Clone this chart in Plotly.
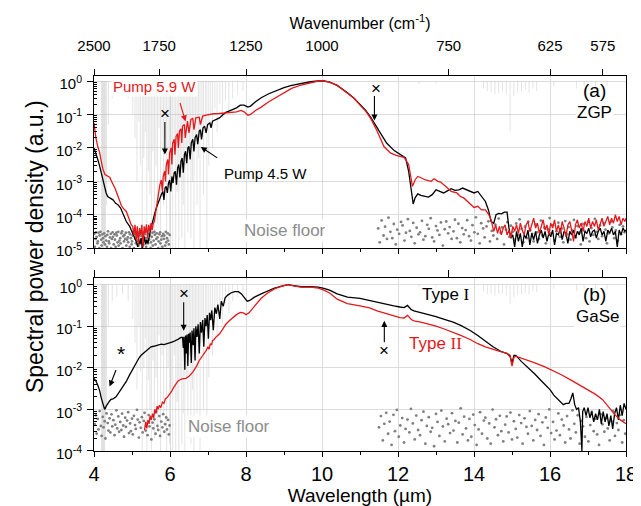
import plotly.graph_objects as go

# ---------------- data ----------------
# Panel (a) ZGP, pump 4.5 W (black)
za45_wl = [
    4.00, 4.05, 4.10, 4.15, 4.19, 4.24, 4.28, 4.32, 4.36, 4.43,
    4.50, 4.57, 4.63, 4.70, 4.76, 4.85, 4.94, 5.03, 5.08, 5.11,
    5.15, 5.18, 5.21, 5.24, 5.27, 5.30, 5.33, 5.36, 5.39, 5.42,
    5.45, 5.48, 5.51, 5.55, 5.60, 5.64, 5.68, 5.73, 5.77, 5.81,
    5.84, 5.87, 5.90, 5.93, 5.96, 5.99, 6.02, 6.05, 6.08, 6.11,
    6.14, 6.17, 6.20, 6.23, 6.26, 6.29, 6.32, 6.35, 6.38, 6.41,
    6.44, 6.47, 6.50, 6.53, 6.56, 6.60, 6.63, 6.66, 6.70, 6.73,
    6.77, 6.80, 6.83, 6.87, 6.91, 6.95, 6.99, 7.05, 7.08, 7.12,
    7.20, 7.30, 7.40, 7.47, 7.55, 7.65, 7.75, 7.85, 7.95, 8.05,
    8.12, 8.25, 8.40, 8.60, 8.80, 9.00, 9.20, 9.45, 9.70, 9.90,
    10.05, 10.20, 10.40, 10.67, 10.85, 11.00, 11.15, 11.28, 11.40, 11.54,
    11.70, 11.90, 12.05, 12.20, 12.28, 12.35, 12.40, 12.45, 12.52, 12.60,
    12.70, 12.80, 12.90, 13.00, 13.10, 13.20, 13.30, 13.40, 13.50, 13.60,
    13.70, 13.80, 13.90, 14.00, 14.10, 14.20, 14.30, 14.38, 14.45, 14.52,
    14.58, 14.65, 14.72, 14.80, 14.87, 14.92, 14.97, 15.02, 15.07, 15.12,
    15.17, 15.22, 15.27, 15.32, 15.37, 15.42, 15.47, 15.52, 15.57, 15.62,
    15.67, 15.72, 15.77, 15.82, 15.87, 15.92, 15.97, 16.02, 16.07, 16.12,
    16.17, 16.22, 16.27, 16.32, 16.37, 16.42, 16.47, 16.52, 16.57, 16.62,
    16.67, 16.72, 16.77, 16.82, 16.87, 16.92, 16.97, 17.02, 17.07, 17.12,
    17.17, 17.22, 17.27, 17.32, 17.37, 17.42, 17.47, 17.52, 17.57, 17.62,
    17.67, 17.72, 17.77, 17.82, 17.87, 17.92, 17.97, 18.00]
za45_val = [
    1.0e-2, 7.1e-3, 4.5e-3, 2.8e-3, 1.8e-3, 1.0e-3, 6.3e-4, 4.5e-4, 3.5e-4, 3.2e-4,
    2.8e-4, 2.2e-4, 2.0e-4, 1.6e-4, 1.1e-4, 6.3e-5, 4.5e-5, 2.5e-5, 2.0e-5, 1.6e-5,
    1.1e-5, 1.8e-5, 1.3e-5, 2.0e-5, 1.0e-5, 1.6e-5, 2.2e-5, 1.3e-5, 1.8e-5, 1.4e-5,
    2.5e-5, 3.2e-5, 4.5e-5, 6.3e-5, 1.1e-4, 1.6e-4, 2.2e-4, 3.2e-4, 4.0e-4, 5.0e-4,
    2.8e-4, 6.3e-4, 7.1e-4, 4.5e-4, 8.9e-4, 1.1e-3, 5.0e-4, 1.4e-3, 8.9e-4, 1.8e-3,
    2.0e-3, 7.9e-4, 2.5e-3, 3.2e-3, 1.3e-3, 4.0e-3, 5.0e-3, 1.8e-3, 6.3e-3, 7.9e-3,
    3.5e-3, 1.0e-2, 1.1e-2, 4.5e-3, 1.4e-2, 1.8e-2, 7.9e-3, 2.0e-2, 2.5e-2, 1.3e-2,
    3.2e-2, 3.5e-2, 1.8e-2, 4.0e-2, 4.5e-2, 2.8e-2, 5.0e-2, 5.6e-2, 4.0e-2, 6.3e-2,
    7.1e-2, 7.9e-2, 0.100, 0.115, 0.126, 0.141, 0.158, 0.19, 0.19, 0.166,
    0.178, 0.24, 0.316, 0.417, 0.525, 0.63, 0.74, 0.85, 0.95, 1.0,
    1.0, 0.93, 0.74, 0.447, 0.30, 0.20, 0.132, 0.083, 0.050, 0.028,
    0.014, 8.3e-3, 6.3e-3, 5.0e-3, 2.0e-3, 5.0e-4, 2.1e-4, 3.2e-4, 4.2e-4, 3.8e-4,
    3.5e-4, 3.4e-4, 4.0e-4, 5.6e-4, 5.0e-4, 4.5e-4, 5.2e-4, 6.0e-4, 5.4e-4, 5.6e-4,
    6.3e-4, 5.6e-4, 5.0e-4, 4.5e-4, 5.0e-4, 3.5e-4, 2.5e-4, 1.4e-4, 6.3e-5, 5.6e-5,
    1.0e-4, 1.1e-4, 1.07e-4, 1.2e-4, 1.2e-4, 4.0e-5, 2.0e-5, 2.5e-5, 1.1e-5, 3.2e-5,
    1.6e-5, 2.8e-5, 1.1e-5, 2.5e-5, 2.0e-5, 3.5e-5, 1.26e-5, 2.8e-5, 1.8e-5, 3.2e-5,
    1.4e-5, 2.5e-5, 3.5e-5, 2.0e-5, 3.2e-5, 1.6e-5, 2.8e-5, 2.2e-5, 3.5e-5, 1.26e-5,
    2.8e-5, 2.5e-5, 4.0e-5, 1.8e-5, 3.2e-5, 2.8e-5, 1.4e-5, 3.2e-5, 2.5e-5, 3.5e-5,
    2.0e-5, 3.2e-5, 2.5e-5, 4.0e-5, 1.6e-5, 3.2e-5, 2.8e-5, 4.0e-5, 2.2e-5, 3.2e-5,
    3.5e-5, 2.0e-5, 3.2e-5, 4.0e-5, 2.5e-5, 3.2e-5, 1.6e-5, 3.5e-5, 2.8e-5, 4.0e-5,
    2.5e-5, 3.2e-5, 1.1e-5, 3.5e-5, 2.5e-5, 4.0e-5, 3.2e-5, 3.5e-5]

# Panel (a) ZGP, pump 5.9 W (red)
za59_wl = [
    4.00, 4.05, 4.10, 4.15, 4.20, 4.24, 4.29, 4.33, 4.38, 4.42,
    4.46, 4.50, 4.55, 4.59, 4.64, 4.68, 4.72, 4.76, 4.81, 4.85,
    4.90, 4.94, 4.98, 5.02, 5.05, 5.08, 5.11, 5.14, 5.17, 5.20,
    5.23, 5.26, 5.29, 5.32, 5.35, 5.38, 5.41, 5.44, 5.47, 5.50,
    5.53, 5.56, 5.59, 5.62, 5.65, 5.69, 5.73, 5.77, 5.80, 5.82,
    5.86, 5.88, 5.90, 5.94, 5.96, 5.99, 6.03, 6.05, 6.07, 6.11,
    6.13, 6.16, 6.20, 6.22, 6.25, 6.29, 6.31, 6.33, 6.38, 6.40,
    6.46, 6.50, 6.55, 6.60, 6.63, 6.68, 6.77, 6.80, 6.86, 6.95,
    7.05, 7.15, 7.30, 7.45, 7.60, 7.75, 7.87, 7.95, 8.05, 8.12,
    8.25, 8.40, 8.60, 8.80, 9.00, 9.20, 9.45, 9.70, 9.90, 10.05,
    10.20, 10.40, 10.67, 10.85, 11.00, 11.15, 11.28, 11.45, 11.63, 11.80,
    11.95, 12.16, 12.28, 12.33, 12.38, 12.45, 12.52, 12.62, 12.72, 12.87,
    12.95, 13.05, 13.12, 13.25, 13.40, 13.55, 13.65, 13.73, 13.85, 14.00,
    14.10, 14.20, 14.30, 14.38, 14.45, 14.52, 14.57, 14.62, 14.67, 14.72,
    14.77, 14.82, 14.87, 14.92, 14.97, 15.02, 15.07, 15.12, 15.17, 15.22,
    15.27, 15.32, 15.37, 15.42, 15.47, 15.52, 15.57, 15.62, 15.67, 15.72,
    15.77, 15.82, 15.87, 15.92, 15.97, 16.02, 16.07, 16.12, 16.17, 16.22,
    16.27, 16.32, 16.37, 16.42, 16.47, 16.52, 16.57, 16.62, 16.67, 16.72,
    16.77, 16.82, 16.87, 16.92, 16.97, 17.02, 17.07, 17.12, 17.17, 17.22,
    17.27, 17.32, 17.37, 17.42, 17.47, 17.52, 17.57, 17.62, 17.67, 17.72,
    17.77, 17.82, 17.87, 17.92, 17.97, 18.00]
za59_val = [
    5.6e-2, 2.0e-2, 1.1e-2, 7.1e-3, 3.5e-3, 2.2e-3, 1.6e-3, 1.5e-3, 1.4e-3, 1.3e-3,
    1.0e-3, 8.3e-4, 6.3e-4, 4.8e-4, 3.2e-4, 2.4e-4, 1.9e-4, 1.6e-4, 1.4e-4, 1.26e-4,
    8.9e-5, 6.3e-5, 5.0e-5, 4.5e-5, 2.5e-5, 5.0e-5, 1.8e-5, 4.5e-5, 1.26e-5, 4.0e-5,
    2.5e-5, 5.0e-5, 1.1e-5, 4.5e-5, 2.8e-5, 5.2e-5, 2.0e-5, 5.0e-5, 3.2e-5, 5.6e-5,
    3.5e-5, 5.6e-5, 6.3e-5, 1.1e-4, 2.0e-4, 4.0e-4, 7.6e-4, 1.1e-3, 5.0e-4, 1.4e-3,
    2.0e-3, 1.0e-3, 3.0e-3, 4.5e-3, 1.6e-3, 7.1e-3, 1.0e-2, 3.2e-3, 1.4e-2, 1.8e-2,
    6.3e-3, 2.2e-2, 2.7e-2, 1.0e-2, 3.2e-2, 3.7e-2, 1.4e-2, 4.5e-2, 5.0e-2, 2.0e-2,
    6.3e-2, 2.8e-2, 7.1e-2, 7.6e-2, 3.5e-2, 7.9e-2, 8.3e-2, 5.0e-2, 8.9e-2, 9.5e-2,
    0.100, 0.105, 0.107, 0.110, 0.112, 0.120, 0.132, 0.120, 0.095, 0.100,
    0.132, 0.166, 0.24, 0.33, 0.447, 0.60, 0.76, 0.91, 1.0, 1.0,
    0.93, 0.74, 0.437, 0.30, 0.19, 0.126, 0.076, 0.032, 0.011, 7.1e-3,
    6.0e-3, 5.2e-3, 3.2e-3, 1.26e-3, 7.1e-4, 1.1e-3, 1.4e-3, 1.26e-3, 1.1e-3, 1.0e-3,
    1.2e-3, 1.0e-3, 9.5e-4, 7.1e-4, 5.0e-4, 4.5e-4, 3.5e-4, 3.2e-4, 2.4e-4, 1.66e-4,
    1.8e-4, 1.4e-4, 1.4e-4, 1.05e-4, 7.1e-5, 3.2e-5, 5.0e-5, 2.8e-5, 4.5e-5, 2.5e-5,
    4.0e-5, 5.0e-5, 2.5e-5, 3.5e-5, 2.0e-5, 4.5e-5, 3.2e-5, 5.0e-5, 2.8e-5, 5.6e-5,
    3.5e-5, 2.5e-5, 5.0e-5, 6.3e-5, 3.2e-5, 5.0e-5, 7.9e-5, 4.0e-5, 5.6e-5, 2.8e-5,
    5.0e-5, 7.1e-5, 3.5e-5, 5.0e-5, 2.5e-5, 5.6e-5, 4.0e-5, 7.1e-5, 3.2e-5, 5.0e-5,
    2.8e-5, 6.3e-5, 4.0e-5, 2.2e-5, 5.0e-5, 6.3e-5, 3.5e-5, 1.6e-5, 5.0e-5, 7.1e-5,
    4.0e-5, 5.6e-5, 3.2e-5, 6.3e-5, 4.5e-5, 7.9e-5, 4.0e-5, 6.3e-5, 4.5e-5, 7.1e-5,
    3.5e-5, 5.6e-5, 7.9e-5, 4.5e-5, 6.3e-5, 8.9e-5, 5.0e-5, 7.9e-5, 5.6e-5, 1.0e-4,
    6.3e-5, 8.9e-5, 5.0e-5, 7.9e-5, 6.3e-5, 7.9e-5]

# Panel (b) GaSe, type I (black)
gb1_wl = [
    4.00, 4.05, 4.10, 4.15, 4.19, 4.24, 4.28, 4.32, 4.37, 4.41,
    4.45, 4.50, 4.58, 4.65, 4.72, 4.78, 4.85, 4.92, 4.98, 5.05,
    5.11, 5.18, 5.24, 5.31, 5.38, 5.44, 5.50, 5.57, 5.64, 5.70,
    5.77, 5.84, 5.90, 5.97, 6.03, 6.10, 6.16, 6.22, 6.29, 6.33,
    6.35, 6.37, 6.39, 6.41, 6.43, 6.45, 6.47, 6.49, 6.51, 6.53,
    6.56, 6.58, 6.61, 6.63, 6.66, 6.68, 6.71, 6.74, 6.77, 6.80,
    6.83, 6.86, 6.89, 6.92, 6.95, 6.98, 7.01, 7.04, 7.07, 7.10,
    7.14, 7.18, 7.22, 7.26, 7.31, 7.35, 7.40, 7.45, 7.52, 7.60,
    7.70, 7.80, 7.88, 7.96, 8.03, 8.10, 8.22, 8.40, 8.57, 8.75,
    8.92, 9.10, 9.25, 9.45, 9.70, 9.90, 10.05, 10.20, 10.40, 10.67,
    11.00, 11.25, 11.45, 11.70, 11.89, 12.05, 12.16, 12.25, 12.35, 12.42,
    12.60, 12.77, 13.00, 13.20, 13.45, 13.65, 13.90, 14.10, 14.30, 14.50,
    14.70, 14.87, 14.95, 15.00, 15.05, 15.10, 15.25, 15.40, 15.60, 15.75,
    15.90, 16.00, 16.10, 16.20, 16.27, 16.35, 16.42, 16.50, 16.55, 16.60,
    16.65, 16.70, 16.75, 16.80, 16.84, 16.86, 16.90, 16.95, 17.00, 17.05,
    17.10, 17.15, 17.20, 17.25, 17.30, 17.35, 17.40, 17.45, 17.50, 17.55,
    17.60, 17.65, 17.70, 17.75, 17.80, 17.85, 17.90, 17.95, 18.00]
gb1_val = [
    5.6e-3, 4.8e-3, 3.8e-3, 2.8e-3, 1.9e-3, 1.2e-3, 1.0e-3, 1.2e-3, 1.45e-3, 1.6e-3,
    1.74e-3, 1.8e-3, 2.0e-3, 2.5e-3, 3.0e-3, 3.7e-3, 4.7e-3, 6.3e-3, 7.9e-3, 1.07e-2,
    1.4e-2, 1.7e-2, 2.0e-2, 2.3e-2, 2.6e-2, 3.0e-2, 3.2e-2, 3.3e-2, 3.4e-2, 3.5e-2,
    3.7e-2, 3.6e-2, 3.8e-2, 3.9e-2, 4.1e-2, 4.3e-2, 4.5e-2, 4.9e-2, 5.4e-2, 5.4e-2,
    3.0e-2, 5.6e-2, 9.0e-3, 6.0e-2, 2.2e-2, 6.3e-2, 1.1e-2, 6.6e-2, 4.0e-2, 7.1e-2,
    1.3e-2, 7.9e-2, 3.5e-2, 8.9e-2, 1.5e-2, 0.100, 5.5e-2, 0.112, 2.2e-2, 0.126,
    7.0e-2, 0.141, 3.2e-2, 0.158, 0.100, 0.186, 5.0e-2, 0.21, 0.140, 0.24,
    8.0e-2, 0.28, 0.200, 0.33, 0.15, 0.40, 0.30, 0.48, 0.56, 0.63,
    0.68, 0.68, 0.60, 0.47, 0.40, 0.417, 0.50, 0.60, 0.71, 0.83,
    0.91, 1.0, 0.95, 0.89, 0.89, 0.87, 0.81, 0.74, 0.60, 0.50,
    0.47, 0.417, 0.37, 0.33, 0.31, 0.29, 0.28, 0.316, 0.25, 0.234,
    0.214, 0.195, 0.17, 0.148, 0.126, 0.105, 0.079, 0.060, 0.044, 0.032,
    0.025, 0.022, 0.019, 0.0129, 0.020, 0.020, 0.0141, 0.0107, 7.1e-3, 5.1e-3,
    3.8e-3, 3.0e-3, 2.2e-3, 1.74e-3, 1.5e-3, 1.3e-3, 1.4e-3, 1.4e-3, 1.8e-3, 2.5e-3,
    1.3e-3, 1.0e-3, 1.1e-3, 5.0e-4, 1.0e-4, 8.9e-4, 1.1e-3, 7.1e-4, 1.1e-3, 6.3e-4,
    8.9e-4, 5.0e-4, 7.9e-4, 5.6e-4, 1.0e-3, 4.5e-4, 8.9e-4, 5.0e-4, 7.9e-4, 4.0e-4,
    7.1e-4, 3.4e-4, 7.9e-4, 1.1e-3, 5.6e-4, 1.26e-3, 7.1e-4, 1.4e-3, 1.0e-3]

# Panel (b) GaSe, type II (red)
gb2_wl = [
    5.33, 5.36, 5.39, 5.42, 5.45, 5.48, 5.51, 5.54, 5.57, 5.60,
    5.63, 5.66, 5.69, 5.72, 5.76, 5.80, 5.84, 5.88, 5.92, 5.96,
    6.00, 6.05, 6.10, 6.15, 6.20, 6.25, 6.32, 6.42, 6.50, 6.60,
    6.70, 6.77, 6.85, 6.90, 6.95, 7.00, 7.03, 7.06, 7.09, 7.12,
    7.16, 7.20, 7.25, 7.30, 7.38, 7.47, 7.56, 7.65, 7.75, 7.85,
    7.93, 8.00, 8.08, 8.22, 8.40, 8.57, 8.75, 8.92, 9.10, 9.25,
    9.45, 9.70, 9.90, 10.05, 10.20, 10.40, 10.67, 11.00, 11.25, 11.45,
    11.70, 11.89, 12.05, 12.16, 12.25, 12.35, 12.42, 12.60, 12.77, 13.00,
    13.20, 13.45, 13.65, 13.90, 14.10, 14.30, 14.50, 14.70, 14.87, 14.95,
    15.00, 15.05, 15.10, 15.40, 15.60, 15.85, 16.10, 16.30, 16.60, 16.80,
    17.00, 17.20, 17.38, 17.55, 17.70, 17.85, 18.00]
gb2_val = [
    3.2e-4, 5.0e-4, 3.5e-4, 5.6e-4, 4.5e-4, 7.1e-4, 5.6e-4, 7.9e-4, 6.3e-4, 1.0e-3,
    7.9e-4, 1.2e-3, 1.0e-3, 1.26e-3, 1.1e-3, 1.5e-3, 1.4e-3, 1.8e-3, 1.9e-3, 2.1e-3,
    2.4e-3, 2.8e-3, 3.4e-3, 4.0e-3, 4.7e-3, 5.1e-3, 5.4e-3, 5.6e-3, 6.3e-3, 7.9e-3,
    1.1e-2, 1.5e-2, 1.9e-2, 2.2e-2, 2.6e-2, 3.2e-2, 2.8e-2, 3.8e-2, 3.5e-2, 4.5e-2,
    4.8e-2, 5.4e-2, 6.0e-2, 6.5e-2, 8.3e-2, 0.112, 0.135, 0.158, 0.19, 0.214,
    0.21, 0.19, 0.21, 0.30, 0.47, 0.63, 0.79, 0.91, 1.0, 0.93,
    0.87, 0.87, 0.83, 0.74, 0.63, 0.447, 0.35, 0.31, 0.275, 0.234,
    0.20, 0.178, 0.162, 0.158, 0.182, 0.145, 0.135, 0.126, 0.115, 0.100,
    0.087, 0.072, 0.060, 0.048, 0.038, 0.032, 0.0275, 0.0245, 0.0224, 0.020,
    0.011, 0.0178, 0.019, 0.0155, 0.0132, 0.0107, 8.5e-3, 6.8e-3, 4.8e-3, 3.8e-3,
    3.0e-3, 2.3e-3, 1.74e-3, 1.1e-3, 7.6e-4, 5.6e-4, 4.5e-4]

# Atmospheric absorption lines (grey background): wavelength and minimum level per panel
atm_wl = [
    4.20, 4.22, 4.24, 4.26, 4.28, 4.30, 4.33, 4.38, 4.48, 4.60,
    4.75, 4.90, 5.02, 5.08, 5.13, 5.18, 5.22, 5.27, 5.31, 5.35,
    5.39, 5.43, 5.47, 5.51, 5.55, 5.59, 5.63, 5.67, 5.71, 5.75,
    5.79, 5.83, 5.87, 5.91, 5.95, 5.99, 6.03, 6.07, 6.11, 6.15,
    6.19, 6.23, 6.27, 6.31, 6.35, 6.39, 6.43, 6.47, 6.51, 6.55,
    6.59, 6.63, 6.67, 6.71, 6.75, 6.79, 6.84, 6.88, 6.93, 6.97,
    7.02, 7.07, 7.12, 7.18, 7.24, 7.31, 7.38, 7.46, 7.55, 7.65,
    7.78, 7.92, 12.55, 13.00, 14.25, 14.35, 14.45, 14.55, 14.65, 14.75,
    14.85, 14.95, 15.05, 15.15, 15.25, 15.35, 15.45, 15.55, 15.65, 16.10,
    16.70, 16.90, 17.20, 17.50]
atm_min_a = [
    1e-5, 1e-5, 1e-5, 1e-5, 1.5e-5, 3e-5, 2e-4, 0.05, 0.3, 0.4,
    0.5, 0.3, 0.1, 0.02, 1e-3, 0.06, 3e-3, 1e-5, 5e-3, 0.03,
    1e-5, 2e-3, 4e-4, 1e-5, 8e-3, 3e-5, 3e-3, 5e-5, 0.04, 1e-5,
    0.01, 2e-4, 0.02, 1e-5, 6e-3, 2e-5, 1e-3, 1e-5, 0.01, 1e-5,
    5e-4, 1e-5, 3e-3, 2e-5, 2e-4, 1e-5, 3e-3, 3e-5, 0.01, 2e-5,
    1e-3, 1e-5, 0.02, 2e-4, 5e-3, 1e-5, 0.02, 4e-4, 0.05, 1e-5,
    3e-3, 0.1, 0.01, 0.15, 0.03, 0.2, 0.08, 0.25, 0.12, 0.3,
    0.4, 0.5, 0.8, 0.85, 0.6, 0.5, 0.45, 0.4, 0.45, 0.5,
    0.4, 0.03, 0.35, 0.45, 0.5, 0.55, 0.45, 0.6, 0.5, 0.7,
    0.6, 0.7, 0.65, 0.7]
atm_min_b = [
    1e-4, 1e-4, 1e-4, 1e-4, 1e-4, 2e-4, 1e-3, 0.1, 0.4, 0.5,
    0.6, 0.4, 0.15, 0.04, 3e-3, 0.1, 8e-3, 1e-4, 0.01, 0.05,
    1e-4, 5e-3, 1e-3, 1e-4, 0.015, 2e-4, 6e-3, 3e-4, 0.06, 1e-4,
    0.02, 8e-4, 0.03, 1e-4, 0.01, 1.5e-4, 3e-3, 1e-4, 0.02, 1e-4,
    1.5e-3, 1e-4, 6e-3, 1.5e-4, 8e-4, 1e-4, 6e-3, 2e-4, 0.02, 1.5e-4,
    3e-3, 1e-4, 0.04, 8e-4, 0.01, 1e-4, 0.04, 1e-3, 0.08, 2e-4,
    6e-3, 0.15, 0.02, 0.2, 0.05, 0.3, 0.12, 0.35, 0.2, 0.4,
    0.5, 0.6, 0.85, 0.9, 0.7, 0.6, 0.6, 0.55, 0.6, 0.6,
    0.55, 0.35, 0.5, 0.55, 0.6, 0.65, 0.6, 0.7, 0.65, 0.8,
    0.7, 0.8, 0.75, 0.8]

# Noise floor points
noise_a_left_x = [
    4.01, 4.02, 4.04, 4.05, 4.07, 4.09, 4.10, 4.12, 4.14, 4.15,
    4.17, 4.19, 4.20, 4.22, 4.24, 4.25, 4.27, 4.29, 4.30, 4.32,
    4.34, 4.35, 4.37, 4.39, 4.40, 4.42, 4.44, 4.45, 4.47, 4.49,
    4.50, 4.52, 4.54, 4.55, 4.57, 4.59, 4.60, 4.62, 4.64, 4.65,
    4.67, 4.69, 4.70, 4.72, 4.74, 4.75, 4.77, 4.79, 4.80, 4.82,
    4.84, 4.85, 4.87, 4.89, 4.90, 4.92, 4.94, 4.95, 4.97, 4.99,
    5.00, 5.02, 5.04, 5.05, 5.07, 5.09, 5.10, 5.12, 5.14, 5.15,
    5.17, 5.19, 5.20, 5.22, 5.24, 5.25, 5.27, 5.29, 5.30, 5.32,
    5.34, 5.35, 5.37, 5.39, 5.40, 5.42, 5.44, 5.45, 5.47, 5.49,
    5.50, 5.52, 5.54, 5.55, 5.57, 5.59, 5.60, 5.62, 5.64, 5.65,
    5.67, 5.69, 5.70, 5.72, 5.74, 5.75, 5.77, 5.79, 5.80, 5.82,
    5.84, 5.85, 5.87, 5.89, 5.90, 5.92, 5.94, 5.95, 5.97, 5.99]
noise_a_left_y = [
    2.7e-5, 1.1e-5, 1.9e-5, 3.0e-5, 2.2e-5, 1.4e-5, 1.6e-5, 2.9e-5, 1.0e-5, 2.4e-5,
    3.1e-5, 1.8e-5, 1.2e-5, 2.6e-5, 2.0e-5, 1.5e-5, 2.8e-5, 1.3e-5, 2.3e-5, 1.7e-5,
    1.1e-5, 2.5e-5, 3.2e-5, 1.6e-5, 1.4e-5, 2.1e-5, 2.7e-5, 1.0e-5, 1.9e-5, 3.0e-5,
    2.2e-5, 1.3e-5, 2.6e-5, 1.8e-5, 1.1e-5, 2.9e-5, 2.4e-5, 1.5e-5, 3.1e-5, 1.2e-5,
    1.7e-5, 2.0e-5, 1.4e-5, 2.8e-5, 3.2e-5, 1.0e-5, 2.3e-5, 1.6e-5, 2.5e-5, 1.9e-5,
    2.9e-5, 1.2e-5, 1.8e-5, 2.1e-5, 1.5e-5, 3.0e-5, 1.1e-5, 2.6e-5, 2.0e-5, 1.3e-5,
    1.6e-5, 2.4e-5, 3.1e-5, 1.0e-5, 2.7e-5, 1.9e-5, 1.4e-5, 2.2e-5, 1.7e-5, 2.8e-5,
    1.2e-5, 3.0e-5, 2.5e-5, 1.5e-5, 1.8e-5, 2.3e-5, 1.0e-5, 2.9e-5, 1.3e-5, 2.1e-5,
    2.6e-5, 1.6e-5, 1.1e-5, 3.2e-5, 2.0e-5, 1.4e-5, 2.7e-5, 1.8e-5, 2.4e-5, 1.0e-5,
    1.5e-5, 2.2e-5, 2.9e-5, 1.2e-5, 1.7e-5, 3.1e-5, 2.5e-5, 1.3e-5, 1.9e-5, 2.8e-5,
    2.1e-5, 1.0e-5, 1.6e-5, 2.6e-5, 3.0e-5, 1.4e-5, 1.8e-5, 2.3e-5, 1.1e-5, 2.7e-5,
    1.9e-5, 2.4e-5, 1.2e-5, 3.1e-5, 1.5e-5, 2.0e-5, 2.8e-5, 1.7e-5, 1.3e-5, 2.5e-5]

noise_a_right_x = [
    11.48, 11.52, 11.57, 11.62, 11.66, 11.71, 11.75, 11.80, 11.85, 11.89,
    11.94, 11.98, 12.03, 12.08, 12.12, 12.17, 12.21, 12.26, 12.31, 12.35,
    12.40, 12.44, 12.49, 12.54, 12.58, 12.63, 12.67, 12.72, 12.77, 12.81,
    12.86, 12.90, 12.95, 13.00, 13.04, 13.09, 13.13, 13.18, 13.23, 13.27,
    13.32, 13.36, 13.41, 13.46, 13.50, 13.55, 13.59, 13.64, 13.69, 13.73,
    13.78, 13.82, 13.87, 13.92, 13.96, 14.01, 14.05, 14.10, 14.15, 14.19,
    14.24, 14.28, 14.33, 14.38, 14.42, 14.47, 14.51, 14.56, 14.61, 14.65,
    14.70, 14.74, 14.79, 14.84, 14.88, 14.93, 14.97, 15.02, 15.07, 15.11,
    15.16, 15.20, 15.25, 15.30, 15.34, 15.39, 15.43, 15.48, 15.53, 15.57,
    15.62, 15.66, 15.71, 15.76, 15.80, 15.85, 15.89, 15.94, 15.99, 16.03,
    16.08, 16.12, 16.17, 16.22, 16.26, 16.31, 16.35, 16.40, 16.45, 16.49,
    16.54, 16.58, 16.63, 16.68, 16.72, 16.77, 16.81, 16.86, 16.91, 16.95,
    17.00, 17.04, 17.09, 17.14, 17.18, 17.23, 17.27, 17.32, 17.37, 17.41,
    17.46, 17.50, 17.55, 17.60, 17.64, 17.69, 17.73, 17.78, 17.83, 17.87,
    17.92, 17.96]
noise_a_right_y = [
    3.9e-5, 1.5e-5, 6.8e-5, 2.4e-5, 4.4e-5, 1.9e-5, 8.2e-5, 3.1e-5, 2.0e-5, 5.3e-5,
    1.3e-5, 3.6e-5, 2.7e-5, 6.1e-5, 4.8e-5, 1.7e-5, 2.9e-5, 7.4e-5, 3.3e-5, 2.2e-5,
    5.7e-5, 1.4e-5, 4.1e-5, 2.6e-5, 3.0e-5, 6.6e-5, 1.8e-5, 2.3e-5, 5.0e-5, 3.8e-5,
    7.9e-5, 2.1e-5, 1.6e-5, 4.6e-5, 3.4e-5, 2.5e-5, 5.9e-5, 1.2e-5, 3.7e-5, 6.3e-5,
    2.8e-5, 4.3e-5, 1.9e-5, 3.2e-5, 7.1e-5, 2.0e-5, 5.4e-5, 1.5e-5, 4.0e-5, 2.6e-5,
    3.5e-5, 6.9e-5, 2.3e-5, 1.7e-5, 4.9e-5, 3.0e-5, 8.4e-5, 2.7e-5, 1.4e-5, 5.6e-5,
    3.9e-5, 2.1e-5, 4.5e-5, 6.4e-5, 1.6e-5, 3.3e-5, 2.4e-5, 5.1e-5, 1.9e-5, 7.7e-5,
    2.9e-5, 4.2e-5, 1.3e-5, 3.6e-5, 6.0e-5, 2.2e-5, 4.7e-5, 3.1e-5, 1.8e-5, 5.5e-5,
    2.5e-5, 7.3e-5, 3.8e-5, 1.5e-5, 4.4e-5, 2.0e-5, 6.2e-5, 3.4e-5, 2.7e-5, 1.6e-5,
    5.2e-5, 3.0e-5, 1.9e-5, 6.7e-5, 2.4e-5, 4.1e-5, 1.4e-5, 3.7e-5, 8.0e-5, 2.8e-5,
    4.9e-5, 1.7e-5, 3.2e-5, 5.8e-5, 2.2e-5, 3.9e-5, 1.5e-5, 6.5e-5, 2.6e-5, 4.3e-5,
    1.8e-5, 3.5e-5, 7.0e-5, 2.1e-5, 4.6e-5, 2.9e-5, 1.3e-5, 5.3e-5, 3.3e-5, 2.0e-5,
    6.1e-5, 1.6e-5, 4.0e-5, 2.5e-5, 7.5e-5, 3.1e-5, 1.9e-5, 4.8e-5, 2.3e-5, 5.7e-5,
    3.6e-5, 1.4e-5, 2.8e-5, 6.3e-5, 4.2e-5, 2.0e-5, 3.4e-5, 1.7e-5, 5.0e-5, 2.6e-5,
    4.5e-5, 3.0e-5]

noise_b_left_x = [
    4.02, 4.05, 4.07, 4.10, 4.12, 4.15, 4.18, 4.20, 4.23, 4.25,
    4.28, 4.30, 4.33, 4.36, 4.38, 4.41, 4.43, 4.46, 4.48, 4.51,
    4.54, 4.56, 4.59, 4.61, 4.64, 4.66, 4.69, 4.72, 4.74, 4.77,
    4.79, 4.82, 4.84, 4.87, 4.90, 4.92, 4.95, 4.97, 5.00, 5.02,
    5.05, 5.08, 5.10, 5.13, 5.15, 5.18, 5.20, 5.23, 5.26, 5.28,
    5.31, 5.33, 5.36, 5.38, 5.41, 5.44, 5.46, 5.49, 5.51, 5.54,
    5.56, 5.59, 5.62, 5.64, 5.67, 5.69, 5.72, 5.74, 5.77, 5.80,
    5.82, 5.85, 5.87, 5.90, 5.92, 5.95, 5.97, 5.99]
noise_b_left_y = [
    4.4e-4, 7.2e-4, 2.6e-4, 5.9e-4, 3.3e-4, 9.1e-4, 4.0e-4, 2.3e-4, 6.6e-4, 3.7e-4,
    5.2e-4, 2.0e-4, 8.0e-4, 4.7e-4, 3.1e-4, 6.1e-4, 2.8e-4, 7.6e-4, 3.9e-4, 5.5e-4,
    2.4e-4, 4.3e-4, 9.5e-4, 3.5e-4, 6.8e-4, 2.9e-4, 5.0e-4, 3.2e-4, 7.9e-4, 4.1e-4,
    2.2e-4, 6.3e-4, 3.8e-4, 5.4e-4, 8.6e-4, 2.7e-4, 4.6e-4, 3.0e-4, 6.0e-4, 2.5e-4,
    7.0e-4, 4.2e-4, 3.4e-4, 9.8e-4, 5.7e-4, 2.1e-4, 4.9e-4, 3.6e-4, 6.5e-4, 2.8e-4,
    5.3e-4, 8.3e-4, 3.1e-4, 4.5e-4, 2.4e-4, 7.3e-4, 3.9e-4, 6.2e-4, 1.9e-4, 4.8e-4,
    3.5e-4, 5.8e-4, 2.6e-4, 8.9e-4, 4.0e-4, 3.2e-4, 6.9e-4, 2.3e-4, 5.1e-4, 3.7e-4,
    7.7e-4, 2.9e-4, 4.4e-4, 6.4e-4, 3.3e-4, 5.6e-4, 2.5e-4, 4.1e-4]

noise_b_right_x = [
    11.50, 11.55, 11.60, 11.64, 11.69, 11.74, 11.78, 11.83, 11.88, 11.92,
    11.97, 12.02, 12.06, 12.11, 12.16, 12.20, 12.25, 12.30, 12.34, 12.39,
    12.44, 12.48, 12.53, 12.58, 12.62, 12.67, 12.72, 12.76, 12.81, 12.86,
    12.90, 12.95, 13.00, 13.04, 13.09, 13.14, 13.18, 13.23, 13.28, 13.32,
    13.37, 13.42, 13.46, 13.51, 13.56, 13.60, 13.65, 13.70, 13.74, 13.79,
    13.84, 13.88, 13.93, 13.98, 14.02, 14.07, 14.12, 14.16, 14.21, 14.26,
    14.30, 14.35, 14.40, 14.44, 14.49, 14.54, 14.58, 14.63, 14.68, 14.72,
    14.77, 14.82, 14.86, 14.91, 14.96, 15.00, 15.05, 15.10, 15.14, 15.19,
    15.24, 15.28, 15.33, 15.38, 15.42, 15.47, 15.52, 15.56, 15.61, 15.66,
    15.70, 15.75, 15.80, 15.84, 15.89, 15.94, 15.98, 16.03, 16.08, 16.12,
    16.17, 16.22, 16.26, 16.31, 16.36, 16.40, 16.45, 16.50, 16.54, 16.59,
    16.64, 16.68, 16.73, 16.78, 16.82, 16.87, 16.92, 16.96, 17.01, 17.06,
    17.10, 17.15, 17.20, 17.24, 17.29, 17.34, 17.38, 17.43, 17.48, 17.52,
    17.57, 17.62, 17.66, 17.71, 17.76, 17.80, 17.85, 17.90, 17.94, 17.98]
noise_b_right_y = [
    3.7e-4, 6.9e-4, 1.8e-4, 4.5e-4, 8.3e-4, 2.6e-4, 5.1e-4, 1.4e-4, 7.4e-4, 3.0e-4,
    9.7e-4, 2.2e-4, 4.1e-4, 6.2e-4, 1.6e-4, 3.4e-4, 5.7e-4, 2.8e-4, 10.3e-4, 4.6e-4,
    1.9e-4, 7.1e-4, 3.2e-4, 2.4e-4, 5.5e-4, 8.8e-4, 1.5e-4, 4.0e-4, 6.5e-4, 2.9e-4,
    3.6e-4, 1.3e-4, 7.8e-4, 5.0e-4, 2.3e-4, 9.4e-4, 3.9e-4, 1.7e-4, 6.0e-4, 4.4e-4,
    2.7e-4, 8.1e-4, 3.1e-4, 5.3e-4, 1.6e-4, 4.8e-4, 10.6e-4, 2.5e-4, 6.7e-4, 3.5e-4,
    1.8e-4, 5.9e-4, 2.2e-4, 7.5e-4, 4.2e-4, 1.4e-4, 3.3e-4, 8.6e-4, 2.6e-4, 5.4e-4,
    6.3e-4, 2.0e-4, 4.6e-4, 1.5e-4, 9.9e-4, 3.7e-4, 5.8e-4, 2.4e-4, 7.0e-4, 3.0e-4,
    1.7e-4, 4.3e-4, 6.8e-4, 2.8e-4, 8.4e-4, 1.9e-4, 5.2e-4, 3.4e-4, 2.1e-4, 7.3e-4,
    4.7e-4, 1.5e-4, 6.1e-4, 3.8e-4, 2.6e-4, 9.1e-4, 4.0e-4, 1.8e-4, 5.6e-4, 3.2e-4,
    7.7e-4, 2.3e-4, 4.9e-4, 1.4e-4, 6.4e-4, 3.6e-4, 10.0e-4, 2.7e-4, 5.0e-4, 1.9e-4,
    3.1e-4, 8.0e-4, 2.4e-4, 5.7e-4, 4.1e-4, 1.6e-4, 6.9e-4, 3.3e-4, 2.0e-4, 9.5e-4,
    4.5e-4, 2.8e-4, 7.2e-4, 1.5e-4, 5.3e-4, 3.9e-4, 2.2e-4, 6.6e-4, 1.7e-4, 4.2e-4,
    8.7e-4, 3.0e-4, 5.9e-4, 2.5e-4, 1.4e-4, 7.6e-4, 4.4e-4, 2.9e-4, 6.2e-4, 3.5e-4,
    1.8e-4, 5.1e-4, 9.2e-4, 2.3e-4, 4.7e-4, 3.2e-4, 7.4e-4, 1.6e-4, 5.5e-4, 2.6e-4]

# Axis tick labels
wavenumbers = [2500, 1750, 1250, 1000, 750, 625, 575]
wl_ticks = [4, 6, 8, 10, 12, 14, 16, 18]
wl_minor = [5, 7, 9, 11, 13, 15, 17]
dec_a = [1e-5, 1e-4, 1e-3, 1e-2, 1e-1, 1]
dec_a_text = ["10<sup>-5</sup>", "10<sup>-4</sup>", "10<sup>-3</sup>", "10<sup>-2</sup>", "10<sup>-1</sup>", "10<sup>0</sup>"]
dec_b = [1e-4, 1e-3, 1e-2, 1e-1, 1]
dec_b_text = ["10<sup>-4</sup>", "10<sup>-3</sup>", "10<sup>-2</sup>", "10<sup>-1</sup>", "10<sup>0</sup>"]

for a, b in [(za45_wl, za45_val), (za59_wl, za59_val), (gb1_wl, gb1_val), (gb2_wl, gb2_val),
             (atm_wl, atm_min_a), (atm_wl, atm_min_b), (noise_a_left_x, noise_a_left_y),
             (noise_a_right_x, noise_a_right_y), (noise_b_left_x, noise_b_left_y),
             (noise_b_right_x, noise_b_right_y)]:
    assert len(a) == len(b), (len(a), len(b))

# ---------------- styling ----------------
FONT = "Arial, 'Liberation Sans', sans-serif"
RED = "#e3191c"
BLACK = "#000000"
NOISE = "#808080"
ATM = "rgba(185,185,185,0.38)"
GRID = "#dcdcdc"


def spike_lines(wl, mins):
    xs, ys = [], []
    for w, m in zip(wl, mins):
        xs += [w, w, None]
        ys += [1.0, m, None]
    return xs, ys


fig = go.Figure()

# panel (a): axes x2 / y2 ; panel (b): axes x / y
for xa, ya, mins in [("x2", "y2", atm_min_a), ("x", "y", atm_min_b)]:
    sx, sy = spike_lines(atm_wl, mins)
    fig.add_trace(go.Scatter(x=sx, y=sy, xaxis=xa, yaxis=ya, mode="lines",
                             line=dict(color=ATM, width=1), hoverinfo="skip", showlegend=False))

for nx, ny, xa, ya in [(noise_a_left_x, noise_a_left_y, "x2", "y2"),
                       (noise_a_right_x, noise_a_right_y, "x2", "y2"),
                       (noise_b_left_x, noise_b_left_y, "x", "y"),
                       (noise_b_right_x, noise_b_right_y, "x", "y")]:
    fig.add_trace(go.Scatter(x=nx, y=ny, xaxis=xa, yaxis=ya, mode="markers",
                             marker=dict(color=NOISE, size=2.8), hoverinfo="skip", showlegend=False))

fig.add_trace(go.Scatter(x=za45_wl, y=za45_val, xaxis="x2", yaxis="y2", mode="lines",
                         line=dict(color=BLACK, width=1.3), name="Pump 4.5 W"))
fig.add_trace(go.Scatter(x=za59_wl, y=za59_val, xaxis="x2", yaxis="y2", mode="lines",
                         line=dict(color=RED, width=1.3), name="Pump 5.9 W"))
fig.add_trace(go.Scatter(x=gb1_wl, y=gb1_val, xaxis="x", yaxis="y", mode="lines",
                         line=dict(color=BLACK, width=1.3), name="Type I"))
fig.add_trace(go.Scatter(x=gb2_wl, y=gb2_val, xaxis="x", yaxis="y", mode="lines",
                         line=dict(color=RED, width=1.3), name="Type II"))

wn_pos = [1e4 / w for w in wavenumbers]
wn_text = [str(w) for w in wavenumbers]

# invisible carriers so the top wavenumber axes get drawn
fig.add_trace(go.Scatter(x=wn_pos, y=[dec_a[-1]] * len(wn_pos), xaxis="x3", yaxis="y2", mode="markers",
                         marker=dict(opacity=0, size=1), hoverinfo="skip", showlegend=False))
fig.add_trace(go.Scatter(x=wn_pos, y=[dec_b[-1]] * len(wn_pos), xaxis="x4", yaxis="y", mode="markers",
                         marker=dict(opacity=0, size=1), hoverinfo="skip", showlegend=False))


def minor_log(decs):
    vals = []
    for d in decs[:-1]:
        vals += [d * k for k in range(2, 10)]
    return vals


common_x = dict(range=[4, 18], showline=True, linecolor="black", linewidth=1, mirror=False,
                ticks="outside", tickcolor="black", tickwidth=1, zeroline=False)
common_y = dict(type="log", showline=True, linecolor="black", linewidth=1, mirror=True,
                ticks="outside", ticklen=6, tickcolor="black", tickwidth=1, zeroline=False,
                showgrid=True, gridcolor=GRID, gridwidth=1, tickfont=dict(size=15),
                ticklabelstandoff=2, ticklabelshift=3)

fig.update_layout(
    width=641, height=506,
    margin=dict(l=86, r=22, t=68, b=57),
    paper_bgcolor="white", plot_bgcolor="white",
    showlegend=False, hovermode=False,
    font=dict(family=FONT, color="black", size=15),
    xaxis=dict(**common_x, anchor="y", domain=[0, 1], tickvals=wl_ticks, ticklen=5,
               showgrid=True, gridcolor=GRID, gridwidth=1, tickfont=dict(size=20),
               minor=dict(tickvals=wl_minor, ticks="outside", ticklen=3, tickcolor="black", showgrid=False),
               title=dict(text="Wavelength (µm)", font=dict(size=19), standoff=4)),
    yaxis=dict(**common_y, anchor="x", domain=[0, 0.4619], range=[-4, 0.165],
               tickvals=dec_b, ticktext=dec_b_text,
               minor=dict(tickvals=minor_log(dec_b), ticks="inside", ticklen=3, tickcolor="black", showgrid=False)),
    xaxis2=dict(**common_x, anchor="y2", domain=[0, 1], tickvals=wl_ticks, ticklen=5,
                showticklabels=False, showgrid=True, gridcolor=GRID, gridwidth=1,
                minor=dict(tickvals=wl_minor, ticks="outside", ticklen=3, tickcolor="black", showgrid=False)),
    yaxis2=dict(**common_y, anchor="x2", domain=[0.5407, 1], range=[-5, 0.15],
                tickvals=dec_a, ticktext=dec_a_text,
                minor=dict(tickvals=minor_log(dec_a), ticks="inside", ticklen=3, tickcolor="black", showgrid=False)),
    xaxis3=dict(**common_x, overlaying="x2", anchor="y2", side="top", tickvals=wn_pos, ticktext=wn_text,
                ticklen=6, showgrid=False, tickfont=dict(size=15), ticklabelstandoff=12,
                title=dict(text="Wavenumber (cm<sup>-1</sup>)", font=dict(size=16), standoff=3)),
    xaxis4=dict(**common_x, overlaying="x", anchor="y", side="top", tickvals=wn_pos,
                ticklen=7, showgrid=False, showticklabels=False),
)

ann = []


def txt(text, x, y, xr, yr, size=16, color=BLACK, bg=None):
    d = dict(text=text, x=x, y=y, xref=xr, yref=yr, showarrow=False,
             font=dict(size=size, color=color, family=FONT), xanchor="center", yanchor="middle")
    if bg:
        d.update(bgcolor=bg, borderpad=1)
    ann.append(d)


def arrow(x, y, ax, ay, xr, yr, color=BLACK):
    ann.append(dict(text="", x=x, y=y, ax=ax, ay=ay, xref=xr, yref=yr, axref="pixel", ayref="pixel",
                    showarrow=True, arrowhead=2, arrowsize=1.1, arrowwidth=1.1, arrowcolor=color))


# panel (a) annotations (y in log10 units)
txt("Pump 5.9 W", 5.60, -0.15, "x2", "y2", 15, RED, "white")
arrow(6.41, -1.21, -6, -20, "x2", "y2", RED)
txt("×", 5.86, -0.97, "x2", "y2", 17)
arrow(5.865, -2.20, 0, -34, "x2", "y2")
txt("Pump 4.5 W", 8.52, -2.76, "x2", "y2", 15)
arrow(6.81, -1.97, 18, 12, "x2", "y2")
txt("×", 11.41, -0.21, "x2", "y2", 17)
arrow(11.38, -1.18, 0, -26, "x2", "y2")
txt("(a)", 17.16, -0.29, "x2", "y2", 19)
txt("ZGP", 17.16, -0.94, "x2", "y2", 17, BLACK, "white")
txt("Noise floor", 9.02, -4.47, "x2", "y2", 17, "#8c8c8c", "white")

# panel (b) annotations
txt("*", 4.71, -1.66, "x", "y", 21)
arrow(4.41, -2.45, 7, -18, "x", "y")
txt("×", 6.36, -0.21, "x", "y", 17)
arrow(6.36, -1.11, 0, -30, "x", "y")
txt("×", 11.64, -1.58, "x", "y", 17)
arrow(11.64, -0.87, 0, 23, "x", "y")
txt("Type <span style='font-family:Liberation Serif, Times New Roman, serif'>I</span>", 13.25, -0.24, "x", "y", 17)
txt("Type <span style='font-family:Liberation Serif, Times New Roman, serif'>II</span>", 12.98, -1.42, "x", "y", 17, RED)
txt("(b)", 17.16, -0.24, "x", "y", 19)
txt("GaSe", 17.24, -0.76, "x", "y", 17, BLACK, "white")
txt("Noise floor", 7.55, -3.40, "x", "y", 17, "#8c8c8c", "white")

# shared y-axis title
ann.append(dict(text="Spectral power density (a.u.)", x=-0.112, y=0.545, xref="paper", yref="paper",
                showarrow=False, textangle=-90, font=dict(size=23, family=FONT, color=BLACK),
                xanchor="center", yanchor="middle"))

fig.update_layout(annotations=ann)
fig.write_html("out.html")
